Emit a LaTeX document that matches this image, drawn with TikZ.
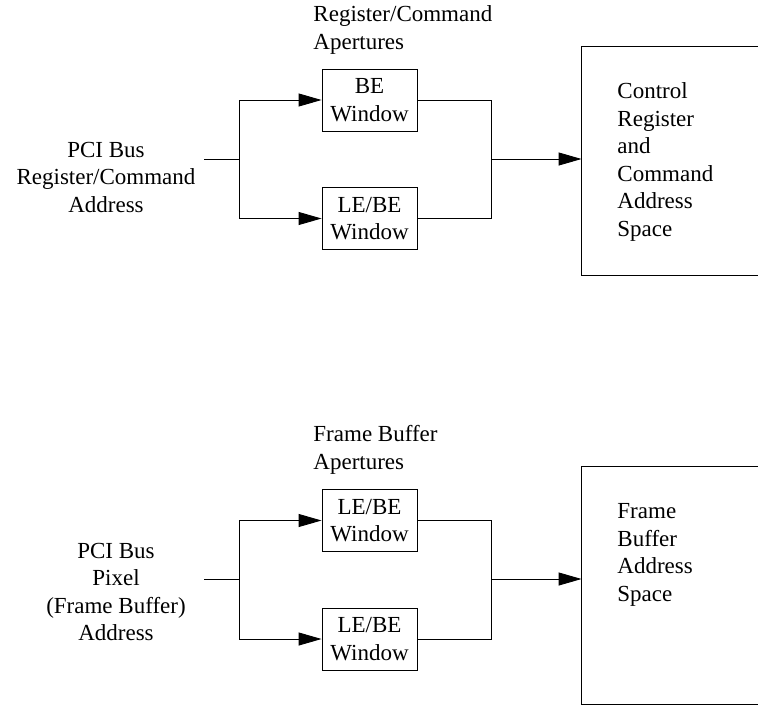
\documentclass[tikz,border=0pt]{standalone}
\usepackage{fontspec}
\setmainfont{Liberation Serif}
\usetikzlibrary{arrows.meta}
\begin{document}
\begin{tikzpicture}[x=1pt,y=-1pt, line width=0.9pt,
  every node/.style={font=\fontsize{23}{27.5}\selectfont},
  win/.style={draw, minimum width=95pt, minimum height=62pt, align=center, inner sep=0pt},
  lbl/.style={align=center, inner sep=0pt},
  lft/.style={align=left, inner sep=0pt, anchor=west},
  space/.style={minimum width=176pt, inner sep=0pt},
  arr/.style={-{Triangle[length=23pt,width=13pt]}}]
\useasboundingbox (0,0) rectangle (758,705);

% ---------- top group ----------
\node[lbl] (pci1) at (106,177) {PCI Bus\\Register/Command\\Address};
\node[lft] (ap1) at (313,30) {Register/Command\\Apertures};
\node[win] (be1) at (369.5,100) {BE\\Window};
\node[win] (le1) at (369.5,218.5) {LE/BE\\Window};
\coordinate (in1) at (204,159);
\coordinate (sp1) at (239,159);
\coordinate (jn1) at (491,159);
\node[space, minimum height=228pt] (ctrl) at (670,161) {};
\draw (ctrl.north east) -- (ctrl.north west) -- (ctrl.south west) -- (ctrl.south east);
\node[lft] (ctrltxt) at (617,162) {Control\\Register\\and\\Command\\Address\\Space};

\draw (in1) -- (sp1);
\draw[arr] (sp1) |- (be1.west);
\draw[arr] (sp1) |- (le1.west);
\draw (be1.east) -| (jn1);
\draw (le1.east) -| (jn1);
\draw[arr] (jn1) -- (jn1 -| ctrl.west);

% ---------- bottom group ----------
\node[lbl] (pci2) at (116,592) {PCI Bus\\Pixel\\(Frame Buffer)\\Address};
\node[lft] (ap2) at (313,450) {Frame Buffer\\Apertures};
\node[win] (be2) at (369.5,520.5) {LE/BE\\Window};
\node[win] (le2) at (369.5,639) {LE/BE\\Window};
\coordinate (in2) at (204,579);
\coordinate (sp2) at (239,579);
\coordinate (jn2) at (491,579);
\node[space, minimum height=237pt] (fb) at (670,585.5) {};
\draw (fb.north east) -- (fb.north west) -- (fb.south west) -- (fb.south east);
\node[lft] (fbtxt) at (617,555) {Frame\\Buffer\\Address\\Space};

\draw (in2) -- (sp2);
\draw[arr] (sp2) |- (be2.west);
\draw[arr] (sp2) |- (le2.west);
\draw (be2.east) -| (jn2);
\draw (le2.east) -| (jn2);
\draw[arr] (jn2) -- (jn2 -| fb.west);
\end{tikzpicture}
\end{document}
